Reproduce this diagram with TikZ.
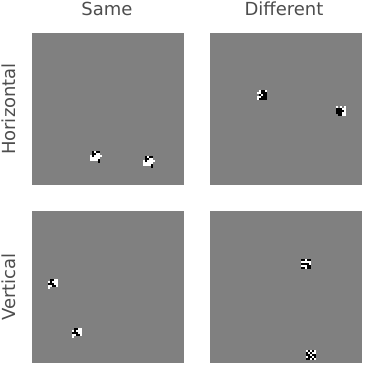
\documentclass[tikz,border=0pt]{standalone}
\usepackage{fontspec}
\setmainfont{DejaVu Sans}
\definecolor{bg}{RGB}{128,128,128}
\definecolor{txt}{RGB}{77,77,77}
\newcommand{\patch}[3]{%
  \begin{scope}[shift={(#1,#2)}]
    \foreach \row [count=\r from 0] in {#3} {
      \foreach \v [count=\c from 0] in \row {
        \ifnum\v=1 \fill[black] (\c*2-6,\r*2-6) rectangle ++(2,2);\fi
        \ifnum\v=2 \fill[white] (\c*2-6,\r*2-6) rectangle ++(2,2);\fi
      }
    }
  \end{scope}}
\begin{document}
\begin{tikzpicture}[x=1pt,y=-1pt,
  panel/.style={fill=bg,draw=none},
  lab/.style={text=txt,font=\fontsize{18}{21}\selectfont,inner sep=0pt}]
\useasboundingbox (0,0) rectangle (364,366);
% panels
\fill[panel] (32,33) rectangle (184,185);
\fill[panel] (210,33) rectangle (362,185);
\fill[panel] (32,211) rectangle (184,363);
\fill[panel] (210,211) rectangle (362,363);
% labels
\node[lab,anchor=base] (same) at (107,16) {Same};
\node[lab,anchor=base] (diff) at (284,16) {Different};
\node[lab,anchor=base,rotate=90] (hor) at (16,109) {Horizontal};
\node[lab,anchor=base,rotate=90] (ver) at (16,287) {Vertical};
% Horizontal / Same
\patch{95.5}{157}{{0,1,2,1,1,0},{0,1,1,2,2,0},{2,1,2,2,2,2},{2,2,2,2,2,0},{2,2,2,2,1,0},{0,0,0,0,1,0}}
\patch{148.5}{162}{{0,1,2,1,1,0},{0,1,1,2,2,0},{2,1,2,2,2,2},{2,2,2,2,2,0},{2,2,2,2,1,0},{0,0,0,0,1,0}}
% Horizontal / Different
\patch{263}{96}{{0,2,1,1,2,0},{2,2,1,1,1,0},{0,1,2,1,1,0},{2,2,1,1,1,0},{2,1,1,1,1,0},{0,0,0,0,0,0}}
\patch{342}{112}{{2,0,2,0,2,0},{1,1,1,2,2,0},{1,1,1,1,2,0},{1,1,1,2,2,0},{0,1,1,2,2,0},{0,0,0,0,0,0}}
% Vertical / Same
\patch{54}{284.5}{{0,1,1,2,2,0},{2,1,2,2,2,0},{1,1,1,2,2,0},{2,2,1,1,2,0},{2,0,0,0,0,0},{0,0,0,0,0,0}}
\patch{77.5}{333.5}{{0,1,1,2,2,0},{2,1,2,2,2,0},{1,1,1,2,2,0},{2,2,1,1,2,0},{2,0,0,0,0,0},{0,0,0,0,0,0}}
% Vertical / Different
\patch{307}{264.5}{{1,1,2,1,1,0},{2,2,2,2,2,0},{1,1,1,1,2,0},{2,2,2,1,1,0},{1,1,2,1,1,0},{0,0,0,0,0,0}}
\patch{312}{356}{{2,1,2,1,2,0},{1,2,1,2,2,0},{1,1,2,1,1,0},{2,1,1,2,1,0},{1,1,2,1,2,0},{0,0,0,0,0,0}}
\end{tikzpicture}
\end{document}
